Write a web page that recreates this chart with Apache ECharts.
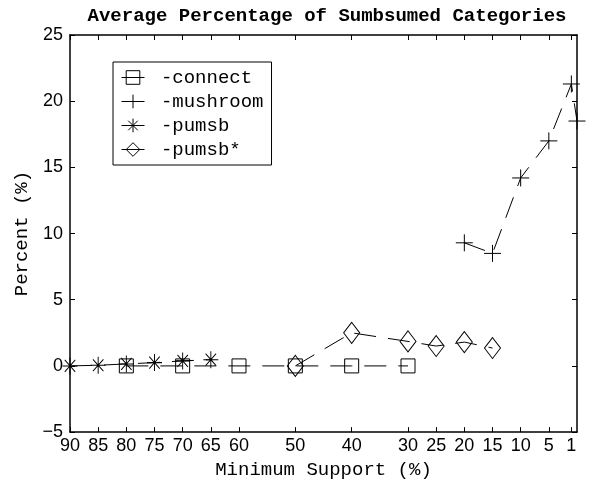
<!DOCTYPE html>
<html>
<head>
<meta charset="UTF-8">
<title>Average Percentage of Sumbsumed Categories</title>
<script src="https://cdn.jsdelivr.net/npm/echarts@6/dist/echarts.min.js"></script>
<style>
    html, body { margin: 0; padding: 0; background: #fff; }
    #chart { width: 589px; height: 484px; }
</style>
</head>
<body>
<div id="chart"></div>
<script>
    // tick positions on the (reversed) support axis
    var supportTicks = [90, 85, 80, 75, 70, 65, 60, 50, 40, 30, 25, 20, 15, 10, 5, 1];

    var connectX = [80, 70, 60, 50, 40, 30];
    var connectY = [0, 0, 0, 0, 0, 0];
    var mushroomX = [20, 15, 10, 5, 1, 0];
    var mushroomY = [9.3, 8.5, 14.2, 17.0, 21.3, 18.5];
    var pumsbX = [90, 85, 80, 75, 70, 65];
    var pumsbY = [0, 0.05, 0.15, 0.25, 0.38, 0.47];
    var pumsbStarX = [50, 40, 30, 25, 20, 15];
    var pumsbStarY = [0, 2.5, 1.85, 1.5, 1.8, 1.35];

    var mono = 'Liberation Mono';
    var sans = 'Liberation Sans';

    function pairs(xs, ys) {
        return xs.map(function (x, i) { return [x, ys[i]]; });
    }

    var markers = {
        square: 'path://M0,0L10,0L10,10L0,10Z',
        plus: 'path://M0,5L10,5M5,0L5,10',
        star: 'path://M0,5L10,5M5,0L5,10M1.5,1.5L8.5,8.5M1.5,8.5L8.5,1.5',
        diamond: 'path://M5,0L10,5L5,10L0,5Z'
    };

    function makeSeries(name, xs, ys, symbol, size) {
        return {
            name: name,
            type: 'line',
            data: pairs(xs, ys),
            symbol: symbol,
            symbolSize: size,
            showAllSymbol: true,
            lineStyle: { color: '#000', width: 1, type: [22, 12] },
            itemStyle: { color: 'rgba(0,0,0,0)', borderColor: '#000', borderWidth: 1 },
            emphasis: { disabled: true },
            animation: false
        };
    }

    var frameLine = { lineStyle: { color: '#000', width: 1.5 }, onZero: false };
    var tickIn = { inside: true, length: 5, lineStyle: { color: '#000', width: 1 } };

    var chart = echarts.init(document.getElementById('chart'));
    chart.setOption({
        animation: false,
        title: {
            text: 'Average Percentage of Sumbsumed Categories',
            left: 322,
            textAlign: 'center',
            top: 2,
            textStyle: { fontFamily: mono, fontWeight: 'bold', fontSize: 19, color: '#000' }
        },
        grid: { left: 70, right: 12, top: 35, bottom: 51 },
        legend: {
            orient: 'vertical',
            left: 113,
            top: 62,
            data: ['connect', 'mushroom', 'pumsb', 'pumsb*'],
            itemWidth: 23,
            itemHeight: 17,
            itemGap: 5,
            padding: [6, 8, 6, 8],
            borderColor: '#000',
            borderWidth: 1,
            backgroundColor: '#fff',
            selectedMode: false,
            formatter: function (name) { return ' -' + name; },
            textStyle: { fontFamily: mono, fontSize: 19, color: '#000', lineHeight: 19 },
            lineStyle: { type: 'solid', color: '#000', width: 1 },
            itemStyle: { color: 'rgba(0,0,0,0)', borderColor: '#000', borderWidth: 1 }
        },
        xAxis: [{
            type: 'value',
            inverse: true,
            min: 0,
            max: 90,
            position: 'bottom',
            name: 'Minimum Support (%)',
            nameLocation: 'middle',
            nameGap: 27,
            nameTextStyle: { fontFamily: mono, fontSize: 19, color: '#000' },
            axisLine: frameLine,
            axisTick: Object.assign({ customValues: supportTicks }, tickIn),
            axisLabel: { customValues: supportTicks, fontFamily: sans, fontSize: 18, color: '#000', margin: 5 },
            splitLine: { show: false }
        }, {
            type: 'value',
            inverse: true,
            min: 0,
            max: 90,
            position: 'top',
            axisLine: frameLine,
            axisTick: Object.assign({ customValues: supportTicks }, tickIn),
            axisLabel: { show: false },
            splitLine: { show: false }
        }],
        yAxis: [{
            type: 'value',
            min: -5,
            max: 25,
            interval: 5,
            position: 'left',
            name: 'Percent (%)',
            nameLocation: 'middle',
            nameGap: 38,
            nameTextStyle: { fontFamily: mono, fontSize: 19, color: '#000' },
            axisLine: frameLine,
            axisTick: tickIn,
            axisLabel: {
                fontFamily: sans, fontSize: 18, color: '#000', margin: 7,
                formatter: function (v) { return String(v).replace('-', '\u2212'); }
            },
            splitLine: { show: false }
        }, {
            type: 'value',
            min: -5,
            max: 25,
            interval: 5,
            position: 'right',
            axisLine: frameLine,
            axisTick: tickIn,
            axisLabel: { show: false },
            splitLine: { show: false }
        }],
        series: [
            makeSeries('connect', connectX, connectY, markers.square, 14),
            makeSeries('mushroom', mushroomX, mushroomY, markers.plus, 17),
            makeSeries('pumsb', pumsbX, pumsbY, markers.star, [15, 17]),
            makeSeries('pumsb*', pumsbStarX, pumsbStarY, markers.diamond, [16, 21])
        ]
    });
</script>
</body>
</html>
